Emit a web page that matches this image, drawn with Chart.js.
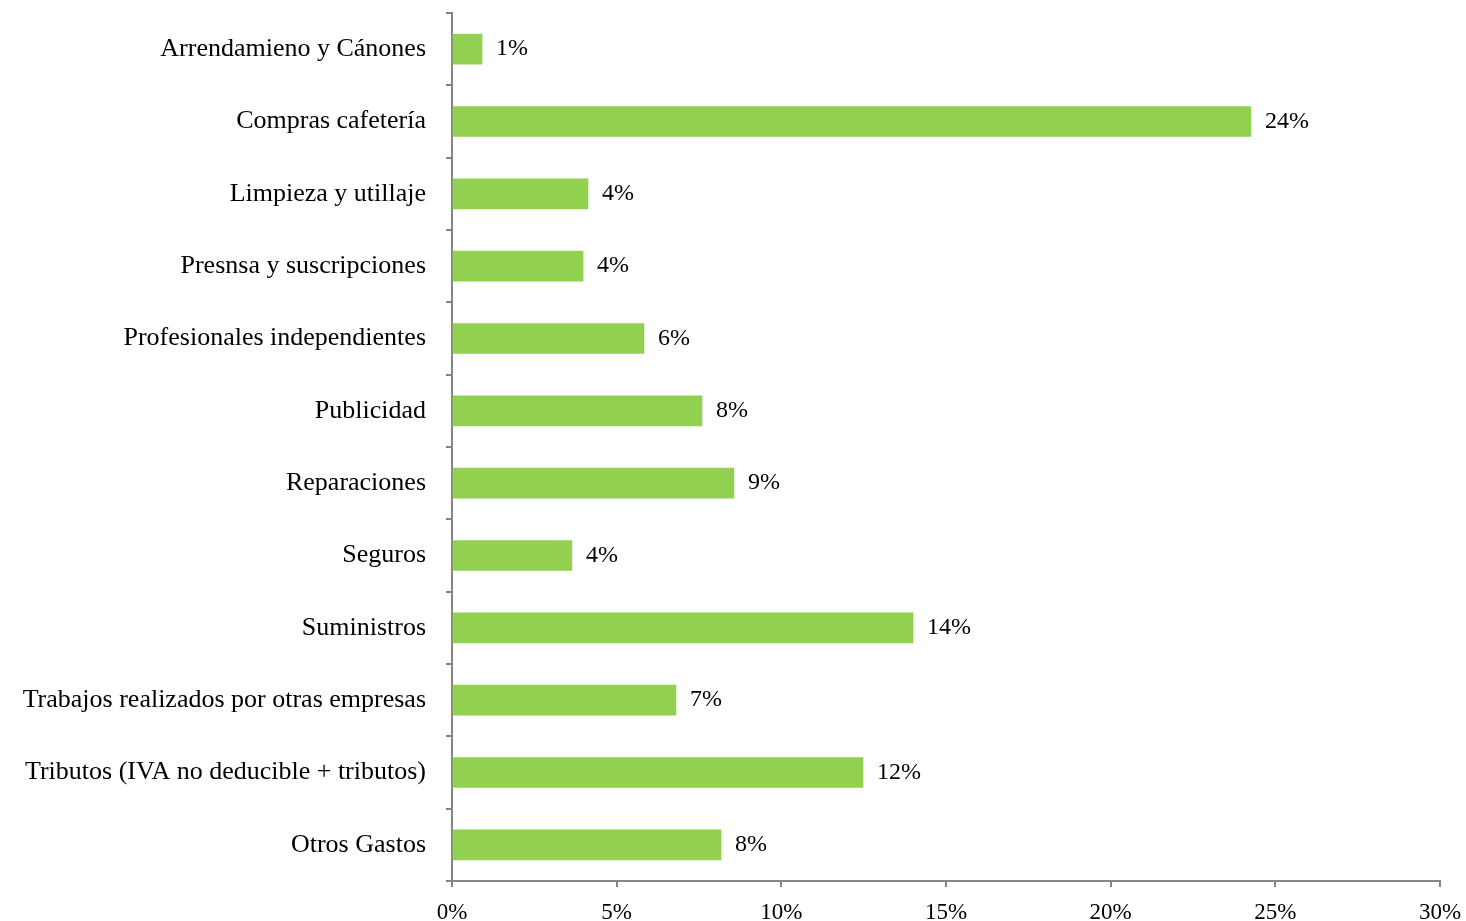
<!DOCTYPE html>
<html>
<head>
<meta charset="utf-8">
<script src="https://cdn.jsdelivr.net/npm/chart.js@4"></script>
<style>
html,body{margin:0;padding:0;background:#fff;}
#wrap{width:1466px;height:921px;position:relative;}
</style>
</head>
<body>
<div id="wrap"><canvas id="c" width="1466" height="921"></canvas></div>
<script>
const categories = [
  "Arrendamieno y Cánones",
  "Compras cafetería",
  "Limpieza y utillaje",
  "Presnsa y suscripciones",
  "Profesionales independientes",
  "Publicidad",
  "Reparaciones",
  "Seguros",
  "Suministros",
  "Trabajos realizados por otras empresas",
  "Tributos (IVA no deducible + tributos)",
  "Otros Gastos"
];
const shares = [0.91, 24.26, 4.13, 3.98, 5.83, 7.59, 8.56, 3.64, 14.0, 6.80, 12.48, 8.17];
const xTicks = [0, 5, 10, 15, 20, 25, 30];

const FONT = "'Liberation Serif', 'DejaVu Serif', serif";
const AXIS = '#868686';

const valueLabels = {
  id: 'valueLabels',
  afterDatasetsDraw(chart) {
    const ctx = chart.ctx;
    const meta = chart.getDatasetMeta(0);
    ctx.save();
    ctx.font = "24px " + FONT;
    ctx.fillStyle = '#000';
    ctx.textAlign = 'left';
    ctx.textBaseline = 'middle';
    meta.data.forEach((bar, i) => {
      ctx.fillText(Math.round(shares[i]) + '%', bar.x + 14, bar.y);
    });
    ctx.restore();
  }
};

new Chart(document.getElementById('c'), {
  type: 'bar',
  data: {
    labels: categories,
    datasets: [{
      data: shares,
      backgroundColor: '#92D050',
      borderWidth: 0,
      barThickness: 30
    }]
  },
  options: {
    indexAxis: 'y',
    responsive: false,
    animation: false,
    layout: { padding: { top: 13, right: 26, left: 0, bottom: 0 } },
    plugins: { legend: { display: false }, tooltip: { enabled: false } },
    scales: {
      x: {
        min: 0, max: 30,
        afterBuildTicks(scale) { scale.ticks = xTicks.map(v => ({ value: v })); },
        afterFit(scale) { scale.height = 40; scale.paddingLeft = 0; scale.paddingRight = 0; },
        ticks: {
          callback: v => v + '%',
          font: { family: FONT, size: 23 },
          color: '#000',
          padding: 12,
          maxRotation: 0,
          autoSkip: false
        },
        grid: { drawOnChartArea: false, tickLength: 6, color: AXIS, lineWidth: 2 },
        border: { color: AXIS, width: 2 }
      },
      y: {
        afterFit(scale) { scale.width = 452; scale.paddingTop = 0; scale.paddingBottom = 0; },
        ticks: {
          font: { family: FONT, size: 26 },
          color: '#000',
          padding: 20,
          autoSkip: false
        },
        grid: { drawOnChartArea: false, tickLength: 6, color: AXIS, lineWidth: 2, offset: true },
        border: { color: AXIS, width: 2 }
      }
    }
  },
  plugins: [valueLabels]
});
</script>
</body>
</html>
